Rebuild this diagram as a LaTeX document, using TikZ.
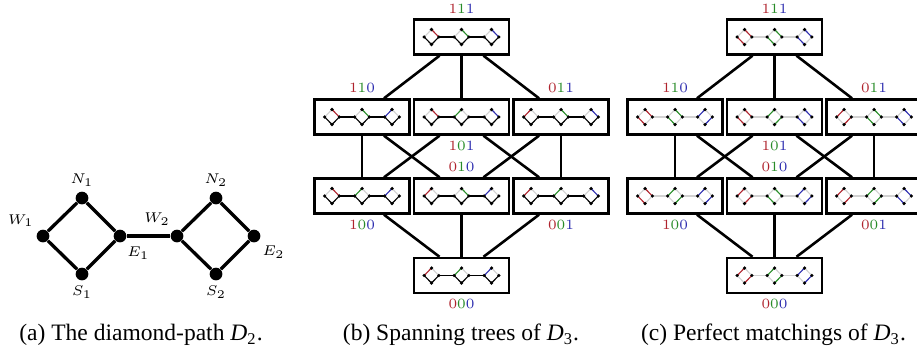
\documentclass[tikz,border=0pt]{standalone}
\usepackage{fontspec}
\newfontfamily\capfont{Liberation Serif}
\usetikzlibrary{calc}

\definecolor{dred}{RGB}{175,35,45}
\definecolor{dgreen}{RGB}{40,140,40}
\definecolor{dblue}{RGB}{45,45,175}

\tikzset{
  dot/.style={circle, fill, inner sep=0pt, minimum size=5.4pt},
  bigedge/.style={line width=1.4pt},
  mlbl/.style={font=\fontsize{6.5}{7}\selectfont, inner sep=1pt, label distance=1pt},
  box/.style={draw, line width=1pt, minimum width=40.4pt, minimum height=14.9pt, inner sep=0pt},
  link/.style={line width=1.1pt},
  lbl/.style={font=\fontsize{6}{6}\selectfont, inner sep=1pt, label distance=1pt},
  solidedge/.style={line width=0.5pt},
  faint/.style={line width=0.5pt, gray!35},
  caption/.style={font=\capfont\fontsize{10}{12}\selectfont},
}

% coloured bit string
\newcommand{\bits}[3]{\textcolor{dred}{#1}\textcolor{dgreen}{#2}\textcolor{dblue}{#3}}

% one small diamond of a spanning tree: centre x, colour, bit
\newcommand{\treediamond}[3]{%
  \ifnum#3=1
    \draw[faint] (#1-7.3,0) -- (#1,7.5);
    \draw[solidedge, #2] (#1,7.5) -- (#1+7.3,0);
  \else
    \draw[solidedge, #2] (#1-7.3,0) -- (#1,7.5);
    \draw[faint] (#1,7.5) -- (#1+7.3,0);
  \fi
  \draw[solidedge] (#1+7.3,0) -- (#1,-7.5) -- (#1-7.3,0);
}

% one small diamond of a perfect matching: centre x, colour, bit
\newcommand{\matchdiamond}[3]{%
  \ifnum#3=1
    \draw[faint] (#1-7.3,0) -- (#1,7.5) (#1+7.3,0) -- (#1,-7.5);
    \draw[solidedge, #2] (#1,7.5) -- (#1+7.3,0) (#1,-7.5) -- (#1-7.3,0);
  \else
    \draw[faint] (#1,7.5) -- (#1+7.3,0) (#1,-7.5) -- (#1-7.3,0);
    \draw[solidedge, #2] (#1-7.3,0) -- (#1,7.5) (#1+7.3,0) -- (#1,-7.5);
  \fi
}

\newcommand{\minidots}{%
  \foreach \c in {-30,0,30}
    \fill (\c-7.3,0) circle (0.75pt) (\c,7.5) circle (0.75pt)
          (\c+7.3,0) circle (0.75pt) (\c,-7.5) circle (0.75pt);
}

% D_3 drawn inside box #1 with bits #2#3#4
\newcommand{\spantree}[4]{%
  \begin{scope}[shift={(#1.center)}]
    \draw[solidedge] (-22.7,0) -- (-7.3,0) (7.3,0) -- (22.7,0);
    \treediamond{-30}{dred}{#2}
    \treediamond{0}{dgreen}{#3}
    \treediamond{30}{dblue}{#4}
    \minidots
  \end{scope}
}
\newcommand{\matching}[4]{%
  \begin{scope}[shift={(#1.center)}]
    \draw[faint] (-22.7,0) -- (-7.3,0) (7.3,0) -- (22.7,0);
    \matchdiamond{-30}{dred}{#2}
    \matchdiamond{0}{dgreen}{#3}
    \matchdiamond{30}{dblue}{#4}
    \minidots
  \end{scope}
}

\begin{document}
\begin{tikzpicture}[x=0.425pt, y=0.425pt]
  \useasboundingbox (0,0) rectangle (917,356);

  % (a) the diamond-path D_2
  \node[dot, label={[mlbl]136:$W_1$}] (w1) at (43,120) {};
  \node[dot, label={[mlbl]above:$N_1$}] (n1) at (82,158) {};
  \node[dot, label={[mlbl]-60:$E_1$}] (e1) at (120,120) {};
  \node[dot, label={[mlbl]below:$S_1$}] (s1) at (82,82) {};
  \node[dot, label={[mlbl]118:$W_2$}] (w2) at (177,120) {};
  \node[dot, label={[mlbl]above:$N_2$}] (n2) at (216,158) {};
  \node[dot, label={[mlbl]-50:$E_2$}] (e2) at (254,120) {};
  \node[dot, label={[mlbl]below:$S_2$}] (s2) at (216,82) {};

  \draw[bigedge] (w1) -- (n1) -- (e1) -- (s1) -- (w1);
  \draw[bigedge] (e1) -- (w2);
  \draw[bigedge] (w2) -- (n2) -- (e2) -- (s2) -- (w2);

  % (b) and (c): the two cubes of boxes
  \foreach \p/\cx in {b/461.5, c/774.5} {
    \node[box, label={[lbl]above:\bits111}] (\p111) at (\cx,319) {};
    \node[box, label={[lbl]above:\bits110}] (\p110) at (\cx-99.5,239) {};
    \node[box, label={[lbl]below:\bits101}] (\p101) at (\cx,239) {};
    \node[box, label={[lbl]above:\bits011}] (\p011) at (\cx+99.5,239) {};
    \node[box, label={[lbl]below:\bits100}] (\p100) at (\cx-99.5,160) {};
    \node[box, label={[lbl]above:\bits010}] (\p010) at (\cx,160) {};
    \node[box, label={[lbl]below:\bits001}] (\p001) at (\cx+99.5,160) {};
    \node[box, label={[lbl]below:\bits000}] (\p000) at (\cx,80.5) {};

    \draw[link] ($(\p111.south)+(-22,0)$) -- ($(\p110.north)+(22,0)$);
    \draw[link] (\p111.south) -- (\p101.north);
    \draw[link] ($(\p111.south)+(22,0)$) -- ($(\p011.north)+(-22,0)$);

    \draw[link] (\p110.south) -- (\p100.north);
    \draw[link] ($(\p110.south)+(22,0)$) -- ($(\p010.north)+(-22,0)$);
    \draw[link] ($(\p101.south)+(-22,0)$) -- ($(\p100.north)+(22,0)$);
    \draw[link] ($(\p101.south)+(22,0)$) -- ($(\p001.north)+(-22,0)$);
    \draw[link] ($(\p011.south)+(-22,0)$) -- ($(\p010.north)+(22,0)$);
    \draw[link] (\p011.south) -- (\p001.north);

    \draw[link] ($(\p100.south)+(22,0)$) -- ($(\p000.north)+(-22,0)$);
    \draw[link] (\p010.south) -- (\p000.north);
    \draw[link] ($(\p001.south)+(-22,0)$) -- ($(\p000.north)+(22,0)$);
  }

  % spanning trees
  \spantree{b111}{1}{1}{1}
  \spantree{b110}{1}{1}{0}
  \spantree{b101}{1}{0}{1}
  \spantree{b011}{0}{1}{1}
  \spantree{b100}{1}{0}{0}
  \spantree{b010}{0}{1}{0}
  \spantree{b001}{0}{0}{1}
  \spantree{b000}{0}{0}{0}

  % perfect matchings
  \matching{c111}{1}{1}{1}
  \matching{c110}{1}{1}{0}
  \matching{c101}{1}{0}{1}
  \matching{c011}{0}{1}{1}
  \matching{c100}{1}{0}{0}
  \matching{c010}{0}{1}{0}
  \matching{c001}{0}{0}{1}
  \matching{c000}{0}{0}{0}

  % captions
  \node[caption] (capa) at (141,21) {(a) The diamond-path \textit{D}\textsubscript{2}.};
  \node[caption] (capb) at (461,21) {(b) Spanning trees of \textit{D}\textsubscript{3}.};
  \node[caption] (capc) at (773.5,21) {(c) Perfect matchings of \textit{D}\textsubscript{3}.};
\end{tikzpicture}
\end{document}
